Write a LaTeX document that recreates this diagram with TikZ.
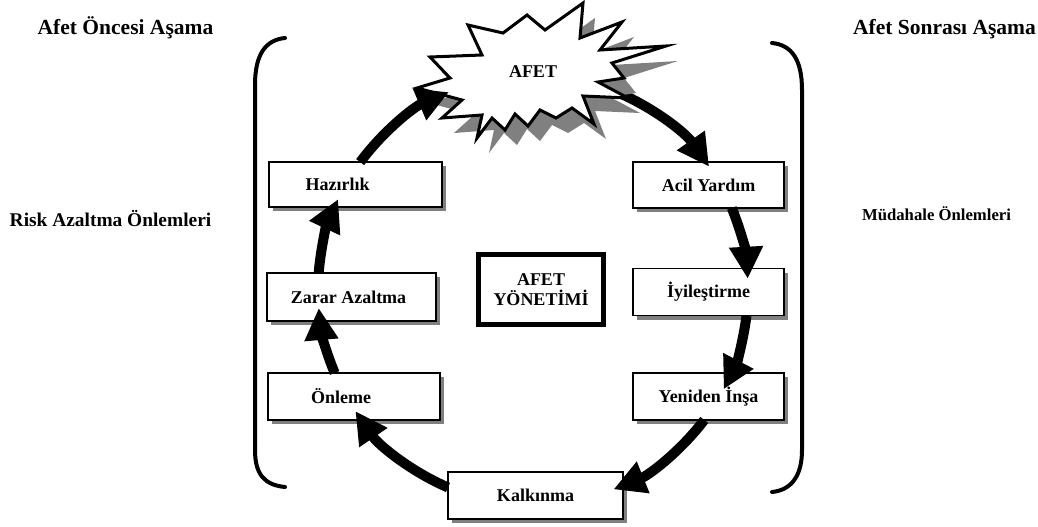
\documentclass[tikz,border=0pt]{standalone}
\usepackage{fontspec}
\setmainfont{Liberation Serif}
\usetikzlibrary{arrows.meta,shadows,calc}
\begin{document}
\begin{tikzpicture}[x=1pt,y=1pt,
  box/.style={draw=black, line width=1.4pt, fill=white, inner sep=0pt,
    font=\fontsize{18}{21}\selectfont\bfseries,
    drop shadow={shadow xshift=4pt, shadow yshift=-4pt, fill=black!50, opacity=1}},
  cyc/.style={line width=10pt, -{Triangle[length=32pt,width=32pt]}},
  brk/.style={line width=4pt, line cap=round},
  title/.style={font=\fontsize{21.5}{24}\selectfont\bfseries},
  starline/.style={draw=black, line width=3pt, fill=white, line join=miter},
]
\useasboundingbox (0,0) rectangle (1038,-527);
\coordinate (c) at (533,-290);

% titles
\node[title] (t1) at (125.5,-28) {Afet Öncesi Aşama};
\node[title] (t2) at (944.5,-29) {Afet Sonrası Aşama};
\node[font=\fontsize{19.4}{22}\selectfont\bfseries] (t3) at (110.5,-219) {Risk Azaltma Önlemleri};
\node[font=\fontsize{16.7}{20}\selectfont\bfseries] (t4) at (936.5,-214) {Müdahale Önlemleri};

% boxes
\node[box, minimum width=173pt, minimum height=45pt] (haz) at (355.5,-184.5) {\hspace{-36pt}Hazırlık};
\node[box, minimum width=169pt, minimum height=48pt] (zar) at (351.5,-297) {\hspace{-6pt}Zarar Azaltma};
\node[box, minimum width=172pt, minimum height=47pt] (onl) at (354,-396.5) {\hspace{-26pt}Önleme};
\node[box, minimum width=175pt, minimum height=47pt] (kal) at (535.5,-495.5) {Kalkınma};
\node[box, minimum width=151pt, minimum height=46pt] (acil) at (708.5,-185) {Acil Yardım};
\node[box, minimum width=151pt, minimum height=47pt] (iyi) at (708.5,-292) {İyileştirme};
\node[box, minimum width=151pt, minimum height=47pt] (yen) at (708.5,-396.5) {Yeniden İnşa};
\node[draw=black, line width=5pt, minimum width=125pt, minimum height=70pt, align=center,
  font=\fontsize{18}{20}\selectfont\bfseries] (yon) at (541,-289.5) {AFET\\YÖNETİMİ};

% arrow leaving the star (drawn under the star)
\coordinate (s2) at ($(c)+(68:215)$);
\draw[cyc] (s2) arc[start angle=68, end angle=35, radius=215];

% star with shadow
\fill[black!50, shift={(12,-15)}] (583,-3) -- (580,-38) -- (622,-22) -- (600,-50) -- (666,-46) -- (612,-63) -- (624,-78) -- (598,-82) -- (628,-98) -- (583,-96) -- (594,-124) -- (572,-108) -- (556,-118) -- (540,-110) -- (528,-126) -- (515,-114) -- (505,-130) -- (492,-118) -- (477,-138) -- (482,-115) -- (442,-118) -- (462,-100) -- (417,-88) -- (450,-78) -- (430,-57) -- (482,-55) -- (468,-25) -- (503,-33) -- (527,-15) -- (545,-30) -- cycle;
\path[starline] (583,-3) -- (580,-38) -- (622,-22) -- (600,-50) -- (666,-46) -- (612,-63) -- (624,-78) -- (598,-82) -- (628,-98) -- (583,-96) -- (594,-124) -- (572,-108) -- (556,-118) -- (540,-110) -- (528,-126) -- (515,-114) -- (505,-130) -- (492,-118) -- (477,-138) -- (482,-115) -- (442,-118) -- (462,-100) -- (417,-88) -- (450,-78) -- (430,-57) -- (482,-55) -- (468,-25) -- (503,-33) -- (527,-15) -- (545,-30) -- cycle;
\node[font=\fontsize{18}{21}\selectfont\bfseries] (afet) at (533,-72) {AFET};

% cycle arrows
\foreach \n/\a/\b in {1/143.5/113, 3/22.4/3, 4/-6.9/-27.5, 5/-37.2/-68, 6/246.7/214.3, 7/202.7/184.8, 8/175.5/155} {
  \coordinate (s\n) at ($(c)+(\a:215)$);
  \draw[cyc] (s\n) arc[start angle=\a, end angle=\b, radius=215];
}

% brackets
\draw[brk] (285,-38) .. controls (265,-40) and (255,-55) .. (255,-85) -- (255,-450) .. controls (255,-475) and (265,-485) .. (285,-487);
\draw[brk] (772,-43) .. controls (792,-45) and (802,-60) .. (802,-90) -- (802,-450) .. controls (802,-475) and (792,-490) .. (772,-492);
\end{tikzpicture}
\end{document}
